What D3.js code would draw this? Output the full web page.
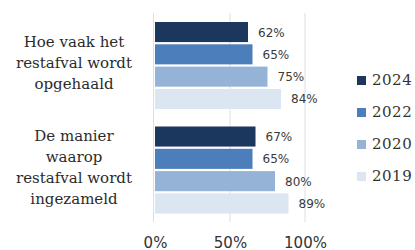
<!DOCTYPE html>
<html>
<head>
<meta charset="utf-8">
<script src="https://cdn.jsdelivr.net/npm/d3@7"></script>
<style>
  html, body { margin: 0; padding: 0; background: #fff; }
  svg { display: block; }
</style>
</head>
<body>
<div id="chart"></div>
<script>
// categorieën (regels van het label)
const categories = ["Hoe vaak het restafval wordt opgehaald", "De manier waarop restafval wordt ingezameld"];
const categoryLines = [["Hoe vaak het", "restafval wordt", "opgehaald"], ["De manier", "waarop", "restafval wordt", "ingezameld"]];
const years = ["2024", "2022", "2020", "2019"];
const values2024 = [62, 67];
const values2022 = [65, 65];
const values2020 = [75, 80];
const values2019 = [84, 89];
const tickValues = [0, 50, 100];

const yearColors = ["#1c375e", "#4c7ebc", "#95b3d7", "#dce6f2"];
const seriesByYear = { "2024": values2024, "2022": values2022, "2020": values2020, "2019": values2019 };

const width = 415, height = 250;

const svg = d3.select("#chart").append("svg")
  .attr("width", width)
  .attr("height", height);

// schalen
const x = d3.scaleLinear().domain([0, 100]).range([155, 305]);
const y0 = d3.scaleBand().domain(categories).range([13, 222]).padding(0);
const y1 = d3.scaleBand().domain(years).range([9, 96]).paddingInner(0.1).paddingOuter(0);
const color = d3.scaleOrdinal().domain(years).range(yearColors);

// rasterlijnen
svg.append("g")
  .selectAll("line")
  .data(tickValues)
  .join("line")
  .attr("x1", d => x(d) - (d === 0 ? 1.5 : 0))
  .attr("x2", d => x(d) - (d === 0 ? 1.5 : 0))
  .attr("y1", 13)
  .attr("y2", 222)
  .attr("stroke", "#dedede")
  .attr("stroke-width", 1);

// balken
const groups = svg.append("g")
  .selectAll("g")
  .data(categories)
  .join("g")
  .attr("transform", d => `translate(0,${y0(d)})`);

groups.selectAll("rect")
  .data((d, i) => years.map(yr => ({ year: yr, value: seriesByYear[yr][i] })))
  .join("rect")
  .attr("x", x(0))
  .attr("y", d => y1(d.year))
  .attr("width", d => x(d.value) - x(0))
  .attr("height", y1.bandwidth())
  .attr("fill", d => color(d.year));

// waardelabels
groups.selectAll("text")
  .data((d, i) => years.map(yr => ({ year: yr, value: seriesByYear[yr][i] })))
  .join("text")
  .attr("x", d => x(d.value) + 10)
  .attr("y", d => y1(d.year) + y1.bandwidth() / 2 + 1)
  .attr("dominant-baseline", "middle")
  .style("font", "12px 'DejaVu Sans'")
  .style("fill", "#3a3a3a")
  .text(d => d.value + "%");

// categorielabels
svg.append("g")
  .selectAll("text")
  .data(categories)
  .join("text")
  .attr("text-anchor", "middle")
  .style("font", "15px 'DejaVu Serif'")
  .style("fill", "#2b2b2b")
  .each(function (d, i) {
    const lines = categoryLines[i];
    const cy = y0(d) + y0.bandwidth() / 2 - 1.5;
    const lh = 21;
    d3.select(this).selectAll("tspan")
      .data(lines)
      .join("tspan")
      .attr("x", 74)
      .attr("y", (l, j) => cy + (j - (lines.length - 1) / 2) * lh)
      .attr("dominant-baseline", "middle")
      .text(l => l);
  });

// x-as
const axis = svg.append("g")
  .attr("transform", "translate(0,243)")
  .call(d3.axisBottom(x).tickValues(tickValues).tickSize(0).tickFormat(d => d + "%"));
axis.select(".domain").remove();
axis.selectAll("text")
  .attr("y", 0)
  .attr("dy", null)
  .attr("dominant-baseline", "middle")
  .style("font", "15px 'DejaVu Sans'")
  .style("fill", "#333");

// legenda
const legend = svg.append("g")
  .selectAll("g")
  .data(years)
  .join("g")
  .attr("transform", (d, i) => `translate(357,${80.5 + i * 32})`);

legend.append("rect")
  .attr("x", 0)
  .attr("y", -4.5)
  .attr("width", 9)
  .attr("height", 9)
  .attr("fill", d => color(d));

legend.append("text")
  .attr("x", 15)
  .attr("y", 0)
  .attr("dominant-baseline", "middle")
  .style("font", "15px 'DejaVu Serif'")
  .style("letter-spacing", "0.5px")
  .style("fill", "#333")
  .text(d => d);
</script>
</body>
</html>
